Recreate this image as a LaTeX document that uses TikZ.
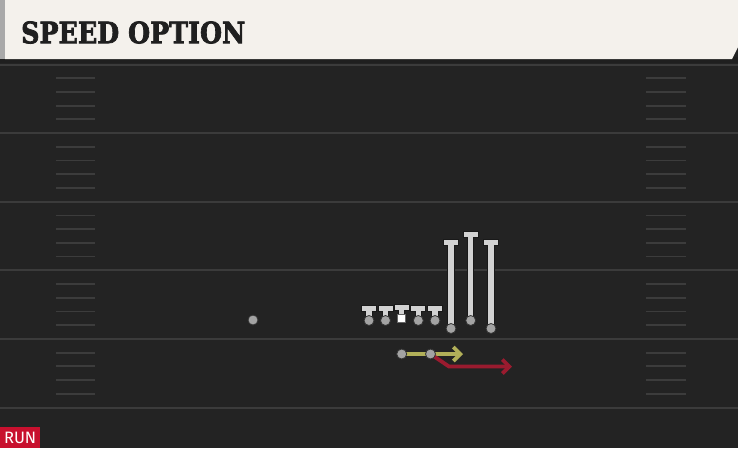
\documentclass[tikz,border=0pt]{standalone}
\usepackage{fontspec}
\usetikzlibrary{arrows.meta}
\newfontfamily\titlefont[FakeBold=2.5]{DejaVu Serif Bold}
\newfontfamily\runfont{Fira Sans}
\definecolor{field}{HTML}{232323}
\definecolor{yardc}{HTML}{3B3B3B}
\definecolor{hashc}{HTML}{3C3C3C}
\definecolor{cream}{HTML}{F4F1EC}
\definecolor{edgegray}{HTML}{A9A9A9}
\definecolor{plfill}{HTML}{D2D2D2}
\definecolor{dotgray}{HTML}{A3A3A3}
\definecolor{yel}{HTML}{B2B059}
\definecolor{routered}{HTML}{9A1B2F}
\definecolor{runred}{HTML}{C8102E}
\pgfdeclarelayer{back}
\pgfdeclarelayer{mid}
\pgfsetlayers{back,mid,main}
\tikzset{
  yard/.style={draw=yardc, line width=2},
  hashm/.style={draw=hashc, line width=1.8},
  plshape/.style={fill=plfill, draw=black!90, line width=0.9},
  pdot/.style={circle, fill=dotgray, draw=black!80, line width=0.8, minimum size=10, inner sep=0},
  psq/.style={rectangle, fill=white, draw=black!60, line width=0.5, minimum size=8, inner sep=0},
  yroute/.style={draw=yel, line width=3.8, -{Straight Barb[length=7pt, width=14pt]}},
  rroute/.style={draw=routered, line width=3.8, line join=miter, -{Straight Barb[length=7pt, width=14pt]}},
}
\newcommand{\tplayer}[4]{% name, x, top, bottom
  \filldraw[plshape] (#2-3.2,#3) rectangle (#2+3.2,#4);
  \filldraw[plshape] (#2-7.5,#3) rectangle (#2+7.5,#3+6);
  \fill[plfill] (#2-2.75,#3+5) rectangle (#2+2.75,#3+7);
  \node[pdot] (#1) at (#2,#4) {};
}
\begin{document}
\begin{tikzpicture}[x=1pt,y=-1pt]
\useasboundingbox (0,0) rectangle (738,448);
\begin{pgfonlayer}{back}
\fill[field] (0,0) rectangle (738,448);
\foreach \i in {0,...,5} {
  \draw[yard] (0,64.5+68.6*\i) -- (738,64.5+68.6*\i);
}
\foreach \i in {0,...,4} {
  \foreach \k in {1,...,4} {
    \draw[hashm] (56,64.5+68.6*\i+13.72*\k) -- (95,64.5+68.6*\i+13.72*\k);
    \draw[hashm] (646,64.5+68.6*\i+13.72*\k) -- (686,64.5+68.6*\i+13.72*\k);
  }
}
\fill[black!88] (0,57) rectangle (738,63);
\fill[cream] (5,0) -- (738,0) -- (738,47) -- (732,59) -- (5,59) -- cycle;
\fill[edgegray] (0,0) rectangle (5,59);
\end{pgfonlayer}
\node[anchor=west, inner sep=0, text=black!88, xscale=0.86] (title) at (21,32.5)
  {\fontsize{29.5}{29.5}\titlefont SPEED OPTION};
% offensive line
\tplayer{lt}{369}{305.5}{320.5}
\tplayer{lg}{385.5}{305.5}{320.5}
\filldraw[plshape] (398.5,304.5) rectangle (404.9,316);
\filldraw[plshape] (394.2,304.5) rectangle (409.2,310.5);
\fill[plfill] (398.95,309.5) rectangle (404.45,311.5);
\node[psq] (c) at (401.7,318.5) {};
\tplayer{rg}{418.3}{305.5}{320.5}
\tplayer{rt}{435}{305.5}{320.5}
% receivers
\tplayer{wa}{451}{239}{328.5}
\tplayer{wb}{470.7}{231}{320.5}
\tplayer{wc}{491}{239}{328.5}
% lone dot
\node[pdot] (def) at (253,320) {};
% backfield
\node[pdot] (qb) at (401.7,354) {};
\node[pdot] (rb) at (430.5,354) {};
\coordinate (qbend) at (463,354);
\coordinate (rbturn) at (449,366.5);
\coordinate (rbend) at (512,366.5);
\begin{pgfonlayer}{mid}
\draw[yroute] (qb.center) -- (qbend);
\draw[rroute] (rb.center) -- (rbturn) -- (rbend);
\end{pgfonlayer}
% run tag
\node[fill=runred, text=white, anchor=south west, minimum width=40, minimum height=20.5, inner sep=0] (run) at (0,448) {\fontsize{16.5}{16.5}\runfont RUN};
\end{tikzpicture}
\end{document}
